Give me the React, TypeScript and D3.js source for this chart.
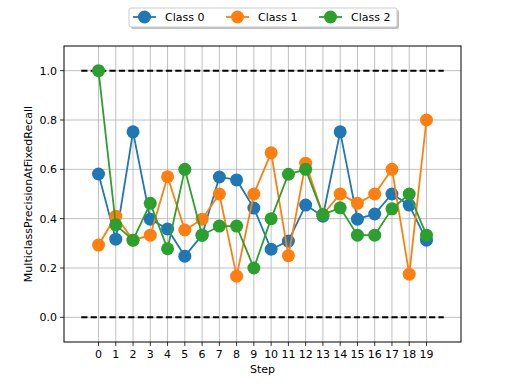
import React from "react";
import * as d3 from "d3";

const steps = d3.range(20);
const class0 = [0.581, 0.317, 0.752, 0.398, 0.358, 0.248, 0.333, 0.569, 0.557, 0.443, 0.276, 0.309, 0.455, 0.41, 0.752, 0.398, 0.419, 0.5, 0.455, 0.313];
const class1 = [0.293, 0.41, 0.313, 0.333, 0.57, 0.354, 0.398, 0.5, 0.167, 0.5, 0.667, 0.25, 0.625, 0.417, 0.5, 0.462, 0.5, 0.6, 0.175, 0.8];
const class2 = [1.0, 0.375, 0.313, 0.462, 0.278, 0.6, 0.333, 0.37, 0.37, 0.2, 0.4, 0.58, 0.6, 0.417, 0.444, 0.333, 0.333, 0.44, 0.5, 0.333];
const seriesNames = ["Class 0", "Class 1", "Class 2"];
const colors = ["#1f77b4", "#ff7f0e", "#2ca02c"];
const yTicks = [0.0, 0.2, 0.4, 0.6, 0.8, 1.0];
const refLines = [0.0, 1.0];

export default function App() {
  const W = 512, H = 384;
  const left = 64, right = 461, top = 46, bottom = 342;
  const x = d3.scaleLinear().domain([-2, 21]).range([left, right]);
  const y = d3.scaleLinear().domain([-0.1, 1.1]).range([bottom, top]);
  const data = [class0, class1, class2];
  const line = d3.line<number>().x((_, i) => x(steps[i])).y((d) => y(d));
  const font = "DejaVu Sans, sans-serif";
  const legendItems = [
    { lx: 133, tx: 165 },
    { lx: 226, tx: 258 },
    { lx: 319, tx: 351 },
  ];
  return (
    <svg width={W} height={H} style={{ position: "absolute", left: 0, top: 0 }} fontFamily={font}>
      <rect x={0} y={0} width={W} height={H} fill="#fff" />
      <g stroke="#b0b0b0" strokeWidth={0.8}>
        {steps.map((s) => (
          <line key={"gx" + s} x1={x(s)} x2={x(s)} y1={top} y2={bottom} />
        ))}
        {yTicks.map((t) => (
          <line key={"gy" + t} x1={left} x2={right} y1={y(t)} y2={y(t)} />
        ))}
      </g>
      {refLines.map((r) => (
        <line key={"r" + r} x1={x(-1)} x2={x(20)} y1={y(r)} y2={y(r)} stroke="#000" strokeWidth={2} strokeDasharray="6.2,3.2" />
      ))}
      {data.map((d, k) => (
        <g key={"s" + k}>
          <path d={line(d) || ""} fill="none" stroke={colors[k]} strokeWidth={1.8} />
          {d.map((v, i) => (
            <circle key={i} cx={x(steps[i])} cy={y(v)} r={6.5} fill={colors[k]} />
          ))}
        </g>
      ))}
      <rect x={left} y={top} width={right - left} height={bottom - top} fill="none" stroke="#000" strokeWidth={1} />
      <g fontSize={11} fill="#000">
        {steps.map((s) => (
          <g key={"tx" + s}>
            <line x1={x(s)} x2={x(s)} y1={bottom} y2={bottom + 4} stroke="#000" strokeWidth={0.8} />
            <text x={x(s)} y={bottom + 16} textAnchor="middle">{s}</text>
          </g>
        ))}
        {yTicks.map((t) => (
          <g key={"ty" + t}>
            <line x1={left - 4} x2={left} y1={y(t)} y2={y(t)} stroke="#000" strokeWidth={0.8} />
            <text x={left - 7} y={y(t) + 4} textAnchor="end">{t.toFixed(1)}</text>
          </g>
        ))}
        <text x={(left + right) / 2} y={373} textAnchor="middle">Step</text>
        <text transform={`translate(32,${(top + bottom) / 2}) rotate(-90)`} textAnchor="middle">MulticlassPrecisionAtFixedRecall</text>
      </g>
      <g>
        <rect x={131} y={10} width={268} height={19} fill="#808080" opacity={0.5} rx={2} />
        <rect x={129} y={8} width={268} height={19} fill="#fff" stroke="#ccc" strokeWidth={1} rx={2} />
        {legendItems.map((it, k) => (
          <g key={"l" + k}>
            <line x1={it.lx} x2={it.lx + 23} y1={17} y2={17} stroke={colors[k]} strokeWidth={1.8} />
            <circle cx={it.lx + 11.5} cy={17} r={6.5} fill={colors[k]} />
            <text x={it.tx} y={21} fontSize={11}>{seriesNames[k]}</text>
          </g>
        ))}
      </g>
    </svg>
  );
}
